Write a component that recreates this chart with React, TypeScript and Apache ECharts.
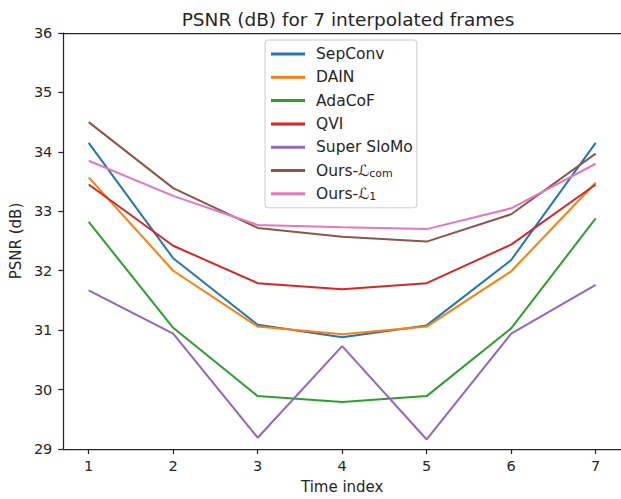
import React, { useEffect, useRef } from "react";
import * as echarts from "echarts";

const frames = [1, 2, 3, 4, 5, 6, 7];
const sepConv = [34.15, 32.21, 31.09, 30.88, 31.08, 32.18, 34.15];
const dain = [33.57, 32.0, 31.06, 30.93, 31.06, 31.99, 33.48];
const adaCoF = [32.82, 31.04, 29.89, 29.79, 29.89, 31.03, 32.88];
const qvi = [33.45, 32.42, 31.79, 31.69, 31.79, 32.44, 33.45];
const superSloMo = [31.67, 30.94, 29.19, 30.73, 29.16, 30.94, 31.76];
const oursCom = [34.5, 33.39, 32.72, 32.57, 32.49, 32.95, 33.97];
const oursL1 = [33.85, 33.26, 32.77, 32.73, 32.7, 33.05, 33.8];
const yTicks = [29, 30, 31, 32, 33, 34, 35, 36];

const seriesDefs = [
  { name: "SepConv", data: sepConv, color: "#1f77b4" },
  { name: "DAIN", data: dain, color: "#ff7f0e" },
  { name: "AdaCoF", data: adaCoF, color: "#2ca02c" },
  { name: "QVI", data: qvi, color: "#d62728" },
  { name: "Super SloMo", data: superSloMo, color: "#9467bd" },
  { name: "Ours-Lcom", data: oursCom, color: "#8c564b" },
  { name: "Ours-L1", data: oursL1, color: "#e377c2" },
];

const FONT = "DejaVu Sans";
const TEXT = "#262626";

export default function App() {
  const ref = useRef<HTMLDivElement>(null);
  useEffect(() => {
    if (!ref.current) return;
    const chart = echarts.init(ref.current, null, { renderer: "svg" });
    chart.setOption({
      animation: false,
      backgroundColor: "#ffffff",
      textStyle: { fontFamily: FONT, color: TEXT },
      title: {
        text: "PSNR (dB) for 7 interpolated frames",
        left: 343,
        textAlign: "center",
        top: 5,
        textStyle: { fontFamily: FONT, fontSize: 18.5, fontWeight: "normal", color: TEXT },
      },
      legend: {
        orient: "vertical",
        left: 265,
        top: 40,
        padding: [5.5, 4, 5.5, 6],
        itemGap: 6.3,
        itemWidth: 34,
        itemHeight: 3,
        icon: "rect",
        backgroundColor: "#ffffff",
        borderColor: "#cccccc",
        borderWidth: 1,
        borderRadius: 3,
        data: seriesDefs.map((s) => s.name),
        formatter: (name: string) => {
          if (name === "Ours-Lcom") return "{t|Ours-}{s|ℒ}{sub|com}";
          if (name === "Ours-L1") return "{t|Ours-}{s|ℒ}{sub|1}";
          return "{t|" + name + "}";
        },
        textStyle: {
          fontFamily: FONT,
          fontSize: 15.5,
          color: TEXT,
          lineHeight: 17,
          padding: [0, 0, 0, 6],
          rich: {
            t: { fontFamily: FONT, fontSize: 15.5, color: TEXT, lineHeight: 17 },
            s: { fontFamily: FONT, fontSize: 15.5, color: TEXT, lineHeight: 17, fontStyle: "italic" },
            sub: { fontFamily: FONT, fontSize: 11, color: TEXT, lineHeight: 17, verticalAlign: "bottom", padding: [6, 0, 0, 0] },
          },
        },
      },
      grid: { left: 62, top: 33, width: 562, height: 417, containLabel: false },
      xAxis: [
        {
          type: "value",
          min: 0.7,
          max: 7.3,
          name: "Time index",
          nameLocation: "middle",
          nameGap: 30,
          nameTextStyle: { fontFamily: FONT, fontSize: 15, color: TEXT },
          axisLine: { show: true, lineStyle: { color: TEXT, width: 1.25 } },
          axisTick: { show: true, customValues: frames, length: 5, lineStyle: { color: TEXT, width: 1.25 } },
          axisLabel: { customValues: frames, fontFamily: FONT, fontSize: 14.5, color: TEXT, margin: 9 },
          splitLine: { show: false },
        },
        {
          type: "value",
          position: "top",
          min: 0.7,
          max: 7.3,
          axisLine: { show: true, onZero: false, lineStyle: { color: TEXT, width: 1.25 } },
          axisTick: { show: false },
          axisLabel: { show: false },
          splitLine: { show: false },
        },
      ],
      yAxis: {
        type: "value",
        min: 29,
        max: 36,
        interval: 1,
        name: "PSNR (dB)",
        nameLocation: "middle",
        nameGap: 38,
        nameRotate: 90,
        nameTextStyle: { fontFamily: FONT, fontSize: 15, color: TEXT },
        axisLine: { show: true, lineStyle: { color: TEXT, width: 1.25 } },
        axisTick: { show: true, length: 5, lineStyle: { color: TEXT, width: 1.25 } },
        axisLabel: {
          fontFamily: FONT,
          fontSize: 14.5,
          color: TEXT,
          margin: 11,
          formatter: (v: number) => (yTicks.includes(v) ? String(v) : ""),
        },
        splitLine: { show: false },
      },
      series: seriesDefs.map((s) => ({
        name: s.name,
        type: "line",
        xAxisIndex: 0,
        data: s.data.map((v, i) => [frames[i], v]),
        showSymbol: false,
        symbol: "none",
        lineStyle: { color: s.color, width: 2 },
        itemStyle: { color: s.color },
        z: 2,
      })),
    });
    return () => chart.dispose();
  }, []);
  return (
    <div
      ref={ref}
      style={{ position: "absolute", left: 0, top: 0, width: 621, height: 499 }}
    />
  );
}
